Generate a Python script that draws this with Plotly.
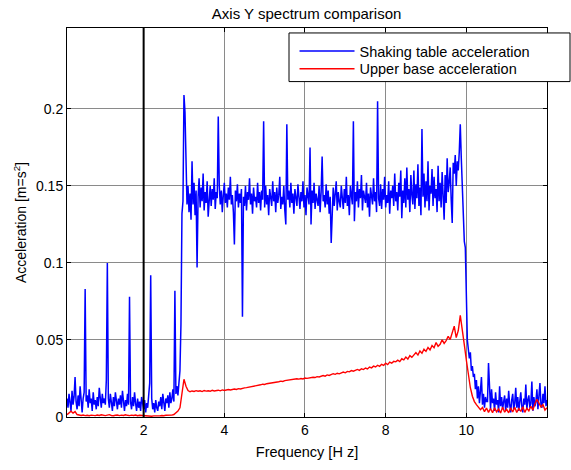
import numpy as np
import plotly.graph_objects as go

# Shaking table acceleration spectrum, values in units of 1e-3 m/s^2
# Low band: 0.100 .. 2.900 Hz, step 0.025 Hz
blue_low = [
    12, 6, 15, 9, 4, 17, 8, 13, 26, 10,
    5, 14, 7, 20, 9, 3, 12, 16, 83, 10,
    14, 6, 18, 9, 12, 4, 16, 8, 11, 5,
    13, 7, 19, 10, 6, 15, 9, 12, 8, 24,
    100, 12, 6, 15, 9, 4, 13, 7, 16, 10,
    5, 12, 8, 14, 6, 17, 9, 4, 11, 7,
    15, 8, 78, 10, 5, 13, 7, 16, 9, 4,
    12, 6, 10, 4, 13, 7, 5, 11, 3, 9,
    6, 14, 22, 92, 12, 5, 9, 3, 11, 6,
    4, 10, 7, 13, 5, 15, 8, 4, 12, 9,
    14, 6, 16, 9, 12, 18, 10, 82, 15, 20,
    14, 24, 30,
]
# Excitation band: 2.925 .. 9.975 Hz, step 0.025 Hz
blue_band = [
    60, 132, 140, 209, 198, 172, 138, 150, 133, 145,
    128, 166, 138, 152, 131, 147, 97, 143, 155, 136,
    149, 140, 158, 134, 146, 139, 153, 130, 144, 150,
    137, 148, 141, 155, 135, 146, 142, 195, 150, 138,
    147, 133, 144, 152, 139, 145, 136, 149, 141, 156,
    138, 144, 133, 112, 147, 140, 151, 136, 145, 139,
    148, 65, 143, 137, 150, 134, 146, 141, 155, 138,
    145, 132, 149, 140, 143, 136, 152, 139, 146, 134,
    147, 141, 192, 136, 150, 138, 144, 131, 148, 142,
    137, 153, 140, 146, 133, 149, 139, 144, 156, 135,
    143, 138, 150, 134, 125, 190, 141, 147, 136, 152,
    139, 145, 132, 148, 141, 137, 151, 143, 135, 146,
    140, 153, 136, 144, 131, 149, 142, 138, 175, 125,
    147, 139, 152, 135, 145, 141, 137, 150, 133, 146,
    169, 140, 144, 136, 151, 138, 147, 132, 143, 113,
    141, 149, 137, 145, 153, 134, 146, 140, 136, 150,
    142, 135, 148, 139, 156, 137, 144, 131, 150, 141,
    138, 192, 127, 146, 140, 153, 136, 148, 142, 157,
    134, 147, 141, 139, 152, 136, 145, 130, 149, 143,
    138, 155, 140, 146, 133, 205, 142, 137, 151, 135,
    148, 141, 156, 136, 144, 139, 153, 132, 147, 142,
    150, 137, 158, 140, 146, 134, 152, 143, 160, 129,
    147, 139, 155, 136, 162, 141, 148, 133, 157, 144,
    138, 160, 135, 151, 142, 164, 137, 149, 131, 187,
    143, 158, 136, 153, 140, 166, 134, 150, 145, 161,
    137, 156, 142, 148, 133, 163, 140, 152, 136, 159,
    144, 128, 157, 139, 168, 146, 152, 162, 141, 126,
    165, 158, 170, 150, 166, 160, 172, 190, 168, 150,
    128, 114, 110,
]
# High band: 10.000 .. 12.000 Hz, step 0.025 Hz
blue_high = [
    75, 50, 44, 38, 42, 30, 33, 26, 28, 18,
    24, 12, 20, 9, 17, 26, 8, 15, 6, 13,
    10, 10, 35, 14, 5, 18, 9, 12, 4, 16,
    8, 11, 3, 20, 7, 13, 5, 10, 14, 4,
    12, 6, 17, 8, 3, 11, 15, 5, 9, 19,
    6, 13, 4, 10, 16, 7, 3, 12, 8, 21,
    5, 11, 14, 6, 9, 23, 4, 13, 7, 10,
    18, 5, 12, 22, 8, 6, 15, 9, 20, 7,
    11,
]

# Upper base acceleration spectrum, 0.10 .. 12.00 Hz, step 0.05 Hz (1e-3 m/s^2)
red_vals = [
    1.5, 3.0, 3.8, 2.5, 3.5, 1.6, 1.2, 1.0, 1.3, 0.9,
    1.1, 0.8, 1.2, 1.0, 0.9, 1.3, 1.0, 1.4, 1.1, 0.9,
    1.2, 1.5, 1.0, 0.8, 1.1, 1.3, 0.9, 1.2, 1.0, 1.4,
    1.1, 0.9, 1.2, 1.0, 1.3, 0.8, 1.1, 1.0, 0.7, 0.9,
    0.6, 0.8, 0.5, 0.7, 0.6, 0.9, 0.7, 1.0, 0.8, 1.1,
    1.0, 1.3, 1.2, 1.6, 2.5, 3.8, 6.0, 17.0, 24.5, 20.0,
    17.2, 16.4, 16.9, 16.6, 17.1, 16.7, 17.0, 16.5, 17.2, 16.8,
    17.0, 16.7, 17.3, 16.9, 17.1, 17.4, 17.0, 17.6, 17.2, 17.5,
    17.8, 17.5, 17.9, 18.2, 17.9, 18.4, 18.2, 18.7, 18.9, 19.1,
    19.3, 19.7, 19.9, 20.3, 20.2, 20.7, 20.9, 21.3, 21.1, 21.6,
    21.8, 22.0, 22.4, 22.2, 22.7, 22.9, 23.3, 23.1, 23.6, 23.8,
    24.0, 24.3, 24.1, 24.5, 24.8, 24.6, 25.0, 24.7, 25.3, 25.1,
    25.4, 25.2, 25.8, 25.6, 26.2, 26.0, 26.6, 26.9, 26.5, 27.3,
    27.0, 27.6, 28.1, 27.7, 28.4, 28.0, 28.8, 29.2, 28.7, 29.6,
    29.3, 30.1, 29.7, 30.5, 30.9, 30.3, 31.3, 30.8, 31.8, 31.2,
    32.4, 31.9, 33.0, 32.5, 33.6, 32.9, 34.2, 33.5, 34.9, 34.0,
    35.6, 34.9, 36.1, 35.8, 36.9, 36.0, 37.8, 37.1, 38.9, 37.6,
    39.8, 38.7, 40.6, 41.8, 40.2, 42.9, 41.4, 44.0, 42.6, 45.1,
    43.5, 46.4, 45.0, 48.3, 45.9, 47.2, 50.1, 47.8, 49.6, 52.4,
    50.3, 55.0, 59.0, 51.5, 56.0, 66.0, 58.0, 47.0, 37.0, 28.0,
    19.0, 13.5, 10.0, 8.0, 6.5, 4.8, 6.2, 3.5, 5.8, 3.0,
    5.5, 2.8, 6.0, 3.3, 5.2, 2.6, 6.4, 3.1, 5.0, 2.7,
    5.9, 3.2, 6.3, 2.9, 5.4, 3.6, 6.6, 3.0, 5.7, 4.0,
    7.0, 4.5, 8.5, 11.5, 9.0, 6.5, 8.0, 4.5, 6.0,
]

x_ticks = [2, 4, 6, 8, 10]
y_ticks = [0, 0.05, 0.1, 0.15, 0.2]
y_tick_text = ["0", "0.05", "0.1", "0.15", "0.2"]

blue_vals = np.array(blue_low + blue_band + blue_high) / 1000.0
blue_freq = np.round(0.1 + 0.025 * np.arange(len(blue_vals)), 4)
red_arr = np.array(red_vals) / 1000.0
red_freq = np.round(0.1 + 0.05 * np.arange(len(red_arr)), 4)

FONT = "Liberation Sans, Arial, sans-serif"

fig = go.Figure()
fig.add_trace(go.Scatter(x=blue_freq, y=blue_vals, mode="lines",
                         name="Shaking table acceleration", legend="legend",
                         line=dict(color="#0000ff", width=1.5)))
fig.add_trace(go.Scatter(x=red_freq, y=red_arr, mode="lines",
                         name="Upper base acceleration", legend="legend2",
                         line=dict(color="#ff0000", width=1.4)))

axis_common = dict(
    showline=True, linecolor="black", linewidth=1, mirror="allticks",
    ticks="inside", ticklen=4, tickcolor="black",
    showgrid=True, gridcolor="#8a8a8a", gridwidth=1,
    zeroline=False, tickfont=dict(family=FONT, size=14, color="black"),
)

legend_common = dict(
    x=0.474, xanchor="left", yanchor="top",
    bgcolor="rgba(0,0,0,0)", borderwidth=0, itemwidth=55,
    font=dict(family=FONT, size=14.5, color="black"),
)

fig.update_layout(
    width=571, height=470,
    margin=dict(l=67, r=24, t=28, b=50),
    paper_bgcolor="white", plot_bgcolor="white",
    title=dict(text="Axis Y spectrum comparison", x=0.537, xanchor="center",
               y=1 - 14 / 470, yanchor="middle",
               font=dict(family=FONT, size=15, color="black")),
    xaxis=dict(range=[0.1, 12.0], tickvals=x_ticks,
               title=dict(text="Frequency [H z]", standoff=10,
                          font=dict(family=FONT, size=14.5, color="black")),
               **axis_common),
    yaxis=dict(range=[0, 0.2525], tickvals=y_ticks, ticktext=y_tick_text,
               title=dict(text="Acceleration [m=s<sup>2</sup>]", standoff=6,
                          font=dict(family=FONT, size=14, color="black")),
               **axis_common),
    showlegend=True,
    legend=dict(y=0.982, **legend_common),
    legend2=dict(y=0.936, **legend_common),
    shapes=[
        # heavy marker line at 2 Hz
        dict(type="line", xref="x", yref="paper", x0=2, x1=2, y0=0, y1=1,
             line=dict(color="black", width=2), layer="above"),
        # legend frame
        dict(type="rect", xref="paper", yref="paper",
             x0=(289 - 67) / 480, x1=(570 - 67) / 480,
             y0=(420 - 82) / 392, y1=(420 - 33) / 392,
             fillcolor="white", line=dict(color="black", width=1),
             layer="above"),
    ],
)

fig.write_html("out.html")
